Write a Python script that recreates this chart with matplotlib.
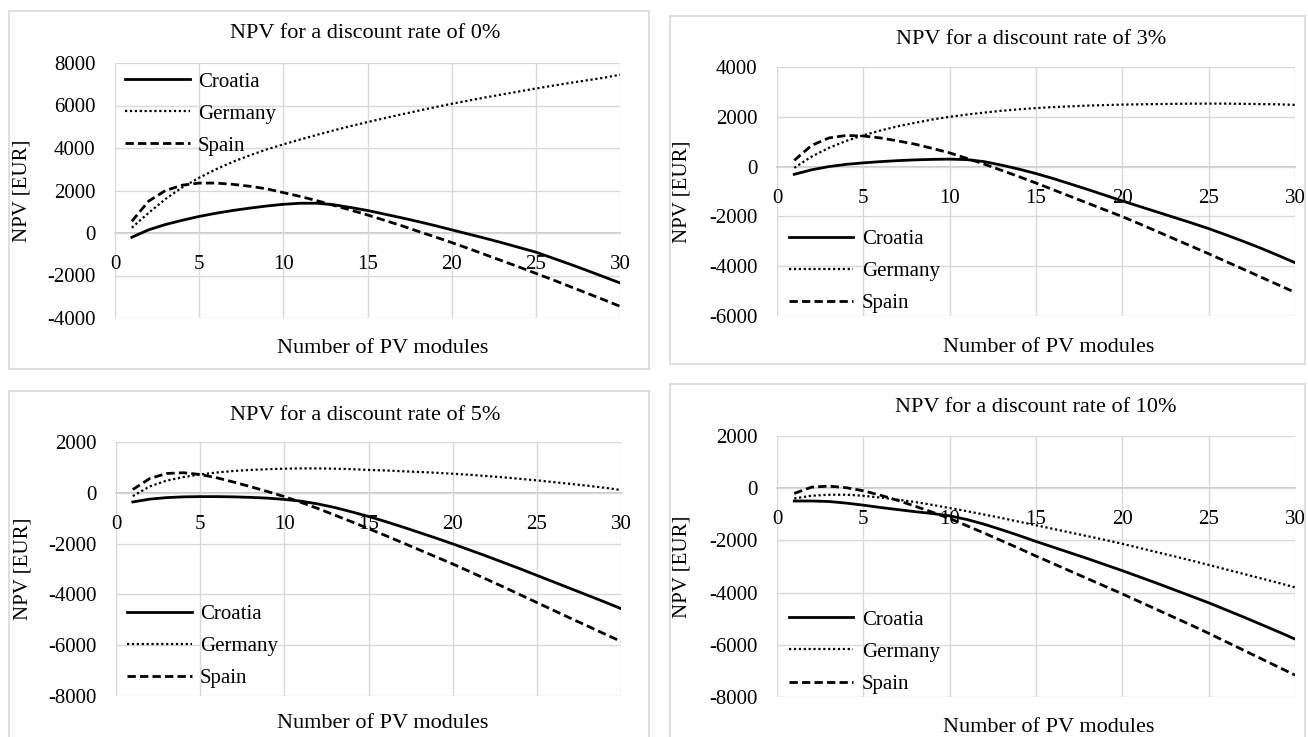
import numpy as np
import matplotlib.pyplot as plt
from matplotlib.patches import Rectangle

plt.rcParams['font.family'] = ['Liberation Serif', 'DejaVu Serif']
plt.rcParams['axes.unicode_minus'] = False

# data
modules = np.arange(1, 31)

croatia_0 = [-200, 150, 400, 600, 780, 930, 1060, 1170, 1270, 1350, 1400, 1400, 1330, 1200, 1060,
             890, 720, 540, 350, 150, -50, -250, -460, -680, -900, -1180, -1460, -1750, -2050, -2350]
germany_0 = [250, 950, 1600, 2150, 2600, 3000, 3350, 3650, 3930, 4170, 4400, 4620, 4830, 5030, 5220,
             5400, 5580, 5750, 5920, 6080, 6230, 6380, 6520, 6660, 6800, 6930, 7060, 7180, 7300, 7450]
spain_0 = [550, 1500, 2000, 2250, 2350, 2350, 2290, 2200, 2080, 1900, 1720, 1520, 1300, 1080, 850,
           600, 350, 80, -180, -450, -730, -1020, -1310, -1600, -1900, -2200, -2510, -2820, -3130, -3450]

croatia_3 = [-310, -130, 0, 90, 150, 200, 240, 270, 290, 300, 280, 200, 60, -100, -280,
             -480, -700, -920, -1150, -1380, -1600, -1820, -2040, -2260, -2490, -2740, -3000, -3270, -3560, -3860]
germany_3 = [-50, 400, 750, 1030, 1260, 1450, 1620, 1760, 1890, 2000, 2090, 2170, 2240, 2300, 2350,
             2390, 2420, 2450, 2470, 2490, 2500, 2510, 2520, 2530, 2530, 2530, 2520, 2510, 2500, 2480]
spain_3 = [250, 850, 1150, 1250, 1230, 1150, 1030, 900, 730, 550, 330, 100, -150, -400, -660,
           -930, -1200, -1470, -1740, -2010, -2300, -2600, -2900, -3200, -3500, -3810, -4120, -4430, -4740, -5050]

croatia_5 = [-360, -250, -190, -160, -150, -150, -160, -180, -210, -260, -330, -440, -580, -750, -930,
             -1130, -1340, -1560, -1780, -2010, -2250, -2490, -2740, -2990, -3250, -3510, -3770, -4030, -4290, -4560]
germany_5 = [-130, 250, 480, 620, 720, 800, 860, 900, 930, 950, 960, 960, 950, 930, 900,
             880, 850, 820, 790, 750, 710, 660, 610, 550, 490, 420, 350, 280, 200, 110]
spain_5 = [130, 560, 760, 790, 720, 590, 420, 240, 50, -150, -380, -620, -880, -1140, -1410,
           -1680, -1960, -2240, -2520, -2800, -3100, -3400, -3700, -4010, -4320, -4630, -4940, -5240, -5550, -5850]

croatia_10 = [-490, -490, -510, -570, -650, -740, -820, -900, -970, -1060, -1200, -1380, -1590, -1810, -2040,
              -2260, -2480, -2700, -2930, -3160, -3400, -3640, -3890, -4140, -4390, -4660, -4930, -5210, -5490, -5780]
germany_10 = [-390, -290, -250, -250, -290, -360, -440, -530, -640, -760, -880, -1010, -1140, -1280, -1420,
              -1560, -1700, -1840, -1980, -2130, -2290, -2450, -2610, -2770, -2940, -3110, -3280, -3450, -3620, -3800]
spain_10 = [-200, 40, 80, 20, -100, -270, -470, -690, -920, -1160, -1440, -1720, -2010, -2300, -2600,
            -2890, -3180, -3470, -3760, -4050, -4350, -4650, -4950, -5250, -5560, -5880, -6200, -6520, -6840, -7160]

rates = ['0%', '3%', '5%', '10%']
countries = ['Croatia', 'Germany', 'Spain']
series = [(croatia_0, germany_0, spain_0), (croatia_3, germany_3, spain_3),
          (croatia_5, germany_5, spain_5), (croatia_10, germany_10, spain_10)]
y_ranges = [(-4000, 8000), (-6000, 4000), (-8000, 2000), (-8000, 2000)]

W, H = 1308, 737
fig = plt.figure(figsize=(W / 100, H / 100), dpi=100)

# pixel layout: axes (left, right, top, bottom), frame box, title, xlabel, legend anchor
axes_px = [(115, 620, 63, 318), (777, 1295, 67, 316), (116, 621, 442, 696), (777, 1295, 436, 697)]
frames_px = [(9, 11, 649, 369), (670, 16, 1305, 364), (9, 391, 649, 745), (670, 384, 1305, 745)]
titles_px = [(365, 34), (1031, 40), (365, 415), (1036, 407)]
xlabels_px = [(383, 348), (1049, 347), (383, 724), (1049, 727)]
legend_loc = [('upper left', (0.02, 0.965)), ('lower left', (0.023, 0.012)),
              ('lower left', (0.022, 0.03)), ('lower left', (0.023, 0.012))]

styles = [dict(color='black', lw=2.0, ls='-'),
          dict(color='black', lw=1.6, ls=(0, (1, 1.2))),
          dict(color='black', lw=2.0, ls=(0, (3, 1.5)))]

for i in range(4):
    fl, ft, fr, fb = frames_px[i]
    fig.patches.append(Rectangle((fl / W, 1 - fb / H), (fr - fl) / W, (fb - ft) / H,
                                 transform=fig.transFigure, fill=False, ec='#d9d9d9', lw=1.2))
    l, r, t, b = axes_px[i]
    ax = fig.add_axes([l / W, 1 - b / H, (r - l) / W, (b - t) / H])
    for k in range(3):
        ax.plot(modules, series[i][k], label=countries[k], **styles[k])
    ax.set_xlim(0, 30)
    ax.set_ylim(*y_ranges[i])
    ax.set_xticks(range(0, 31, 5))
    ax.set_yticks(range(y_ranges[i][0], y_ranges[i][1] + 1, 2000))
    ax.grid(True, color='#d9d9d9', lw=1.0)
    ax.set_axisbelow(True)
    for s in ['top', 'left', 'right']:
        ax.spines[s].set_visible(False)
    ax.spines['bottom'].set_position(('data', 0))
    ax.spines['bottom'].set_color('#bfbfbf')
    ax.spines['bottom'].set_linewidth(1.2)
    ax.spines['bottom'].set_zorder(0.5)
    ax.tick_params(axis='x', length=0, pad=16, labelsize=15)
    ax.tick_params(axis='y', length=0, pad=14, labelsize=15)
    ax.set_ylabel('NPV [EUR]', fontsize=15)
    ax.yaxis.set_label_coords(-0.166, 0.5)
    loc, anchor = legend_loc[i]
    ax.legend(loc=loc, bbox_to_anchor=anchor, frameon=False, fontsize=15, handlelength=3.1,
              handletextpad=0.4, labelspacing=0.6, borderpad=0, borderaxespad=0)
    fig.text(titles_px[i][0] / W, 1 - titles_px[i][1] / H, 'NPV for a discount rate of ' + rates[i],
             ha='center', va='center', fontsize=16)
    fig.text(xlabels_px[i][0] / W, 1 - xlabels_px[i][1] / H, 'Number of PV modules',
             ha='center', va='center', fontsize=16)

fig.savefig('out.png', dpi=100)
